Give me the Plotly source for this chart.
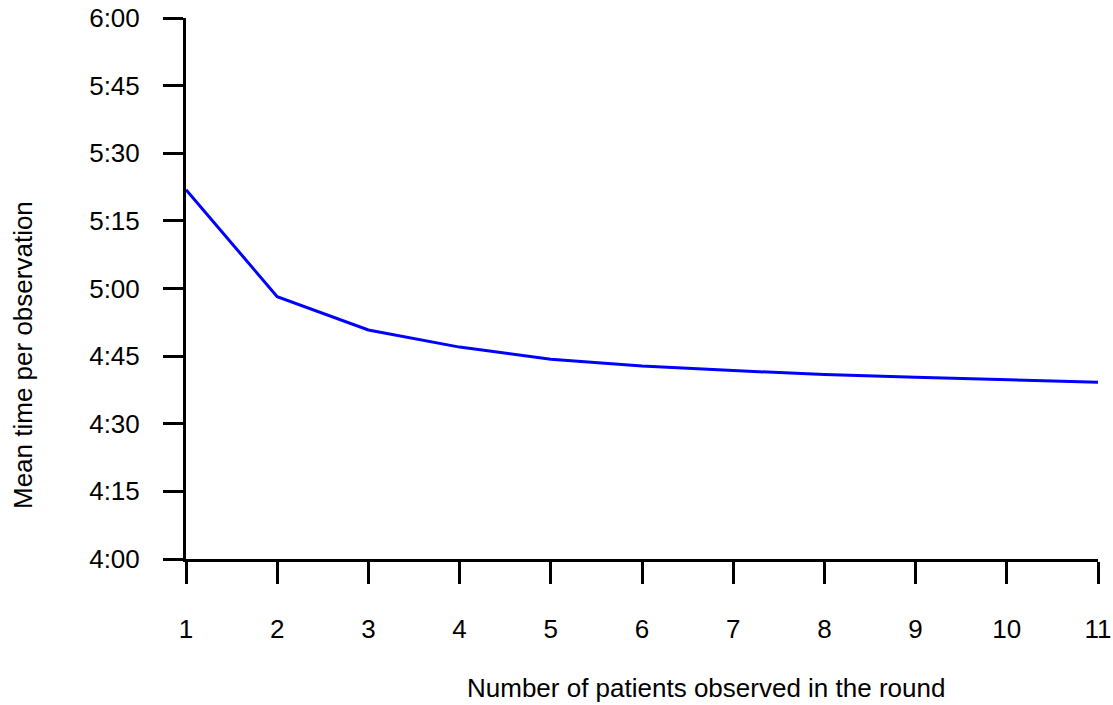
import plotly.graph_objects as go

patients = [1, 2, 3, 4, 5, 6, 7, 8, 9, 10, 11]
mean_seconds = [321.9, 298.2, 290.8, 287.0, 284.3, 282.8, 281.8, 280.9, 280.3, 279.7, 279.2]
y_tick_vals = [240, 255, 270, 285, 300, 315, 330, 345, 360]
y_tick_text = ["4:00", "4:15", "4:30", "4:45", "5:00", "5:15", "5:30", "5:45", "6:00"]
x_title = "Number of patients observed in the round"
y_title = "Mean time per observation"

FONT = "Liberation Sans, Arial, sans-serif"
W, H = 1113, 705
L, R, T, B = 186, 15, 18, 146
PW, PH = W - L - R, H - T - B

fig = go.Figure()
fig.add_trace(go.Scatter(
    x=patients, y=mean_seconds, mode="lines",
    line=dict(color="rgb(0,0,255)", width=3),
    showlegend=False, hoverinfo="skip",
))

fig.update_layout(
    width=W, height=H,
    margin=dict(l=L, r=R, t=T, b=B, autoexpand=False),
    paper_bgcolor="white", plot_bgcolor="white",
    font=dict(family=FONT, size=26, color="black"),
)
fig.update_xaxes(
    range=[1, 11], tickvals=patients, ticktext=[str(p) for p in patients],
    showgrid=False, zeroline=False, automargin=False,
    showline=True, linecolor="black", linewidth=3,
    ticks="outside", ticklen=22, tickwidth=3, tickcolor="black",
    ticklabelstandoff=23, ticklabeloverflow="allow",
    tickfont=dict(size=26, family=FONT),
)
fig.update_yaxes(
    range=[240, 360], tickvals=y_tick_vals, ticktext=y_tick_text,
    showgrid=False, zeroline=False, automargin=False,
    showline=True, linecolor="black", linewidth=3,
    ticks="outside", ticklen=20, tickwidth=3, tickcolor="black",
    ticklabelstandoff=18, ticklabeloverflow="allow",
    tickfont=dict(size=26, family=FONT),
)

# axis titles placed as in the reference (offset from plot centre)
fig.add_annotation(
    text=x_title, xref="paper", yref="paper",
    x=(706 - L) / PW, y=-(688 - (H - B)) / PH,
    xanchor="center", yanchor="middle", showarrow=False,
    font=dict(size=26, family=FONT),
)
fig.add_annotation(
    text=y_title, xref="paper", yref="paper",
    x=-(L - 23) / PW, y=1 - (355 - T) / PH,
    xanchor="center", yanchor="middle", textangle=-90, showarrow=False,
    font=dict(size=26, family=FONT),
)

fig.write_html(
    "out.html",
    config={"displayModeBar": False, "staticPlot": True},
    post_script="document.body.style.margin='0';document.body.style.overflow='hidden';",
)
